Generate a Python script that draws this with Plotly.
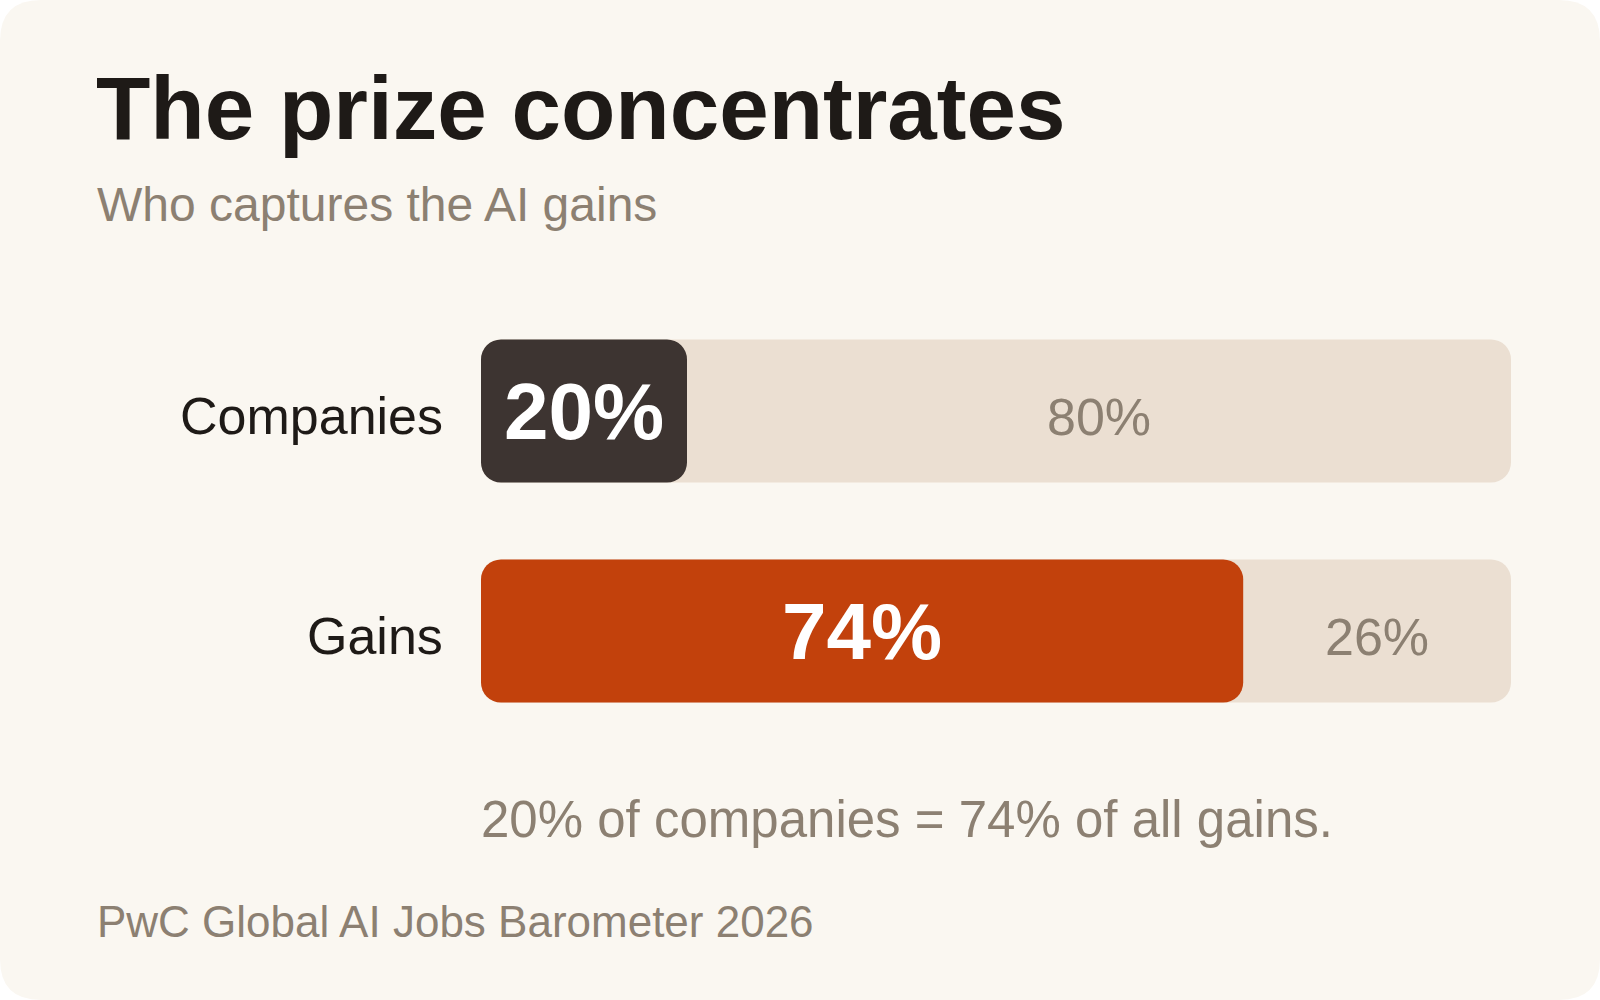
import plotly.graph_objects as go

# data
categories = ["Companies", "Gains"]
shares = [20, 74]          # share held by the top group (%)
total = 100

title = "The prize concentrates"
subtitle = "Who captures the AI gains"
note = "20% of companies = 74% of all gains."
source = "PwC Global AI Jobs Barometer 2026"

# styles
W, H = 1600, 1000
ML, MR, MT, MB = 481, 89, 301, 259
PW, PH = W - ML - MR, H - MT - MB
FONT = "Liberation Sans, Arial, Helvetica, sans-serif"
CARD = "#faf7f1"
TRACK = "#ebdfd2"
FILLS = ["#3d3431", "#c2410c"]
INK = "#1e1a17"
MUTED = "#8c8072"
RADIUS = 20


def px_x(p):
    return (p - ML) / PW


def px_y(p):
    return (H - MB - p) / PH


fig = go.Figure()

# light track
fig.add_trace(go.Bar(
    y=categories, x=[total] * len(categories), base=[0] * len(categories),
    orientation="h", marker=dict(color=TRACK, cornerradius=RADIUS, line_width=0),
    hoverinfo="skip", showlegend=False,
))

# coloured share bars
fig.add_trace(go.Bar(
    y=categories, x=shares, base=[0] * len(categories),
    orientation="h", marker=dict(color=FILLS, cornerradius=RADIUS, line_width=0),
    hoverinfo="skip", showlegend=False,
))

# value labels, category labels
for cat, s in zip(categories, shares):
    fig.add_annotation(x=s / 2, y=cat, text=f"<b>{s}%</b>", showarrow=False,
                       yshift=0, font=dict(family=FONT, size=80, color="white"))
    fig.add_annotation(x=s + (total - s) / 2, y=cat, text=f"{total - s}%",
                       showarrow=False, yshift=-6,
                       font=dict(family=FONT, size=52, color=MUTED))
    fig.add_annotation(x=0, y=cat, xref="paper", text=cat, showarrow=False,
                       xanchor="right", xshift=-36, yshift=-5,
                       font=dict(family=FONT, size=52, color=INK))

# rounded card behind everything
r = 41
rx, ry = r / PW, r / PH
x0, x1 = px_x(0), px_x(W)
y0, y1 = px_y(H), px_y(0)
path = (f"M {x0 + rx},{y1} L {x1 - rx},{y1} Q {x1},{y1} {x1},{y1 - ry} "
        f"L {x1},{y0 + ry} Q {x1},{y0} {x1 - rx},{y0} "
        f"L {x0 + rx},{y0} Q {x0},{y0} {x0},{y0 + ry} "
        f"L {x0},{y1 - ry} Q {x0},{y1} {x0 + rx},{y1} Z")
fig.add_shape(type="path", path=path, xref="paper", yref="paper",
              fillcolor=CARD, line_width=0, layer="below")

texts = [
    (title, 94, 108, 89, INK, True),
    (subtitle, 95, 204, 48, MUTED, False),
    (note, 479, 819, 51, MUTED, False),
    (source, 95, 921, 44, MUTED, False),
]
for t, x, y, size, color, bold in texts:
    fig.add_annotation(
        text=f"<b>{t}</b>" if bold else t, x=px_x(x), y=px_y(y),
        xref="paper", yref="paper", xanchor="left", yanchor="middle",
        showarrow=False, font=dict(family=FONT, size=size, color=color),
    )

fig.update_layout(
    width=W, height=H, margin=dict(l=ML, r=MR, t=MT, b=MB),
    paper_bgcolor="white", plot_bgcolor="rgba(0,0,0,0)",
    barmode="overlay", bargap=0.35,
    xaxis=dict(range=[0, total], visible=False, fixedrange=True),
    yaxis=dict(categoryorder="array", categoryarray=categories,
               range=[1.5, -0.5], visible=False, fixedrange=True),
    font=dict(family=FONT),
)

fig.write_html("out.html", config={"displayModeBar": False},
               post_script="document.body.style.margin = '0';")
